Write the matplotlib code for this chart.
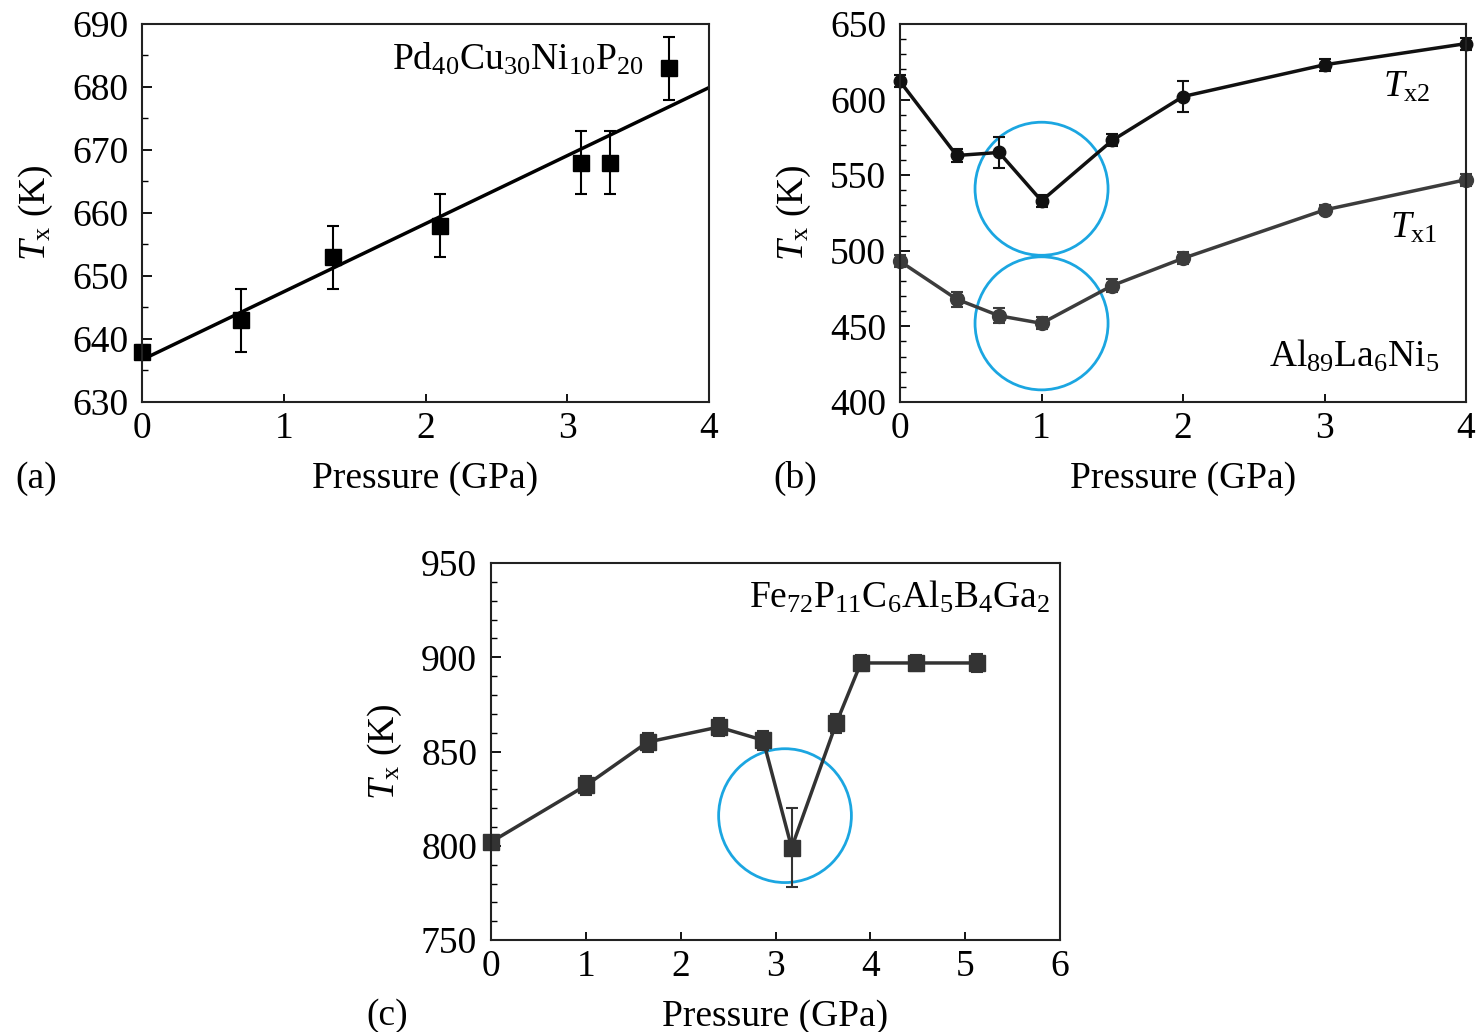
import numpy as np
import matplotlib
matplotlib.use('Agg')
import matplotlib.pyplot as plt
from matplotlib.patches import Ellipse

plt.rcParams['font.family'] = ['Liberation Serif', 'DejaVu Serif']
plt.rcParams['mathtext.fontset'] = 'custom'
plt.rcParams['mathtext.rm'] = 'Liberation Serif'
plt.rcParams['mathtext.it'] = 'Liberation Serif:italic'
plt.rcParams['font.size'] = 27

# =============================================================================
# Data
# =============================================================================
# (a) Pd40Cu30Ni10P20
p_a = [0, 0.7, 1.35, 2.1, 3.1, 3.3, 3.72]
tx_a = [638, 643, 653, 658, 668, 668, 683]
err_a = [1, 5, 5, 5, 5, 5, 5]
fit_a = [636.7, 10.8]  # intercept, slope of the linear fit

# (b) Al89La6Ni5
p_b = [0, 0.4, 0.7, 1.0, 1.5, 2.0, 3.0, 4.0]
tx2_b = [612, 563, 565, 533, 573, 602, 623, 637]
err2_b = [4, 4, 10, 4, 4, 10, 4, 4]
tx1_b = [493, 468, 457, 452, 477, 495, 527, 547]
err1_b = [4, 5, 5, 4, 4, 4, 3, 4]

# (c) Fe72P11C6Al5B4Ga2
p_c = [0, 1.0, 1.65, 2.4, 2.87, 3.17, 3.64, 3.9, 4.48, 5.12]
tx_c = [802, 832, 855, 863, 856, 799, 865, 897, 897, 897]
err_c = [3, 5, 5, 5, 5, 21, 5, 4, 4, 5]

BLUE = '#1ba6e1'


def style_axes(ax, xlim, ylim, xticks, yticks, yminor):
    ax.set_xlim(*xlim)
    ax.set_ylim(*ylim)
    ax.set_xticks(xticks)
    ax.set_yticks(yticks)
    ax.set_yticks(yminor, minor=True)
    ax.tick_params(which='both', direction='in', top=False, right=False)
    ax.tick_params(axis='y', which='major', length=7, width=1.3, pad=10)
    ax.tick_params(axis='y', which='minor', length=4, width=1.0)
    ax.tick_params(axis='x', which='major', length=6, width=1.3, pad=7)
    for s in ax.spines.values():
        s.set_linewidth(1.5)
        s.set_color('#222222')
    ax.set_xlabel('Pressure (GPa)', labelpad=11)
    ax.set_ylabel(r'$T_\mathrm{x}$ (K)', labelpad=12)


fig = plt.figure(figsize=(14.83, 10.32), dpi=100)
ax_a = fig.add_axes([0.0958, 0.6105, 0.3823, 0.3663])
ax_b = fig.add_axes([0.6069, 0.6105, 0.3817, 0.3663])
ax_c = fig.add_axes([0.3311, 0.0891, 0.3837, 0.3653])

# =============================================================================
# (a)
# =============================================================================
xs = np.array([0, 4])
ax_a.plot(xs, fit_a[0] + fit_a[1] * xs, color='black', lw=2.5)
ax_a.errorbar(p_a, tx_a, yerr=err_a, fmt='s', color='black', ms=11,
              capsize=4, elinewidth=1.5, capthick=1.5, clip_on=False)
style_axes(ax_a, (0, 4), (630, 690), range(0, 5), range(630, 691, 10),
           range(630, 691, 5))
ax_a.text(0.884, 0.878, r'Pd$_{40}$Cu$_{30}$Ni$_{10}$P$_{20}$',
          transform=ax_a.transAxes, ha='right', va='baseline')

# =============================================================================
# (b)
# =============================================================================
ax_b.errorbar(p_b, tx2_b, yerr=err2_b, fmt='-o', color='#111111', ms=9,
              lw=2.5, capsize=4, elinewidth=1.5, capthick=1.5, clip_on=False)
ax_b.errorbar(p_b, tx1_b, yerr=err1_b, fmt='-o', color='#3c3c3c', ms=10,
              lw=2.5, capsize=4, elinewidth=1.5, capthick=1.5, clip_on=False)
ax_b.add_patch(Ellipse((1.0, 541), 0.94, 88, fill=False, ec=BLUE, lw=2))
ax_b.add_patch(Ellipse((1.0, 452), 0.94, 88, fill=False, ec=BLUE, lw=2))
style_axes(ax_b, (0, 4), (400, 650), range(0, 5), range(400, 651, 50),
           range(400, 651, 10))
ax_b.text(0.853, 0.807, r'$T_\mathrm{x2}$', transform=ax_b.transAxes,
          ha='left', va='baseline')
ax_b.text(0.866, 0.434, r'$T_\mathrm{x1}$', transform=ax_b.transAxes,
          ha='left', va='baseline')
ax_b.text(0.954, 0.093, r'Al$_{89}$La$_6$Ni$_5$', transform=ax_b.transAxes,
          ha='right', va='baseline')

# =============================================================================
# (c)
# =============================================================================
ax_c.errorbar(p_c, tx_c, yerr=err_c, fmt='-s', color='#333333', ms=11,
              lw=2.5, capsize=4, elinewidth=1.5, capthick=1.5, clip_on=False)
ax_c.add_patch(Ellipse((3.1, 816), 1.40, 71, fill=False, ec=BLUE, lw=2))
style_axes(ax_c, (0, 6), (750, 950), range(0, 7), range(750, 951, 50),
           range(750, 951, 10))
ax_c.text(0.982, 0.883, r'Fe$_{72}$P$_{11}$C$_6$Al$_5$B$_4$Ga$_2$',
          transform=ax_c.transAxes, ha='right', va='baseline')

# Panel letters
fig.text(15 / 1483, 1 - 488 / 1032, '(a)', va='baseline')
fig.text(773 / 1483, 1 - 488 / 1032, '(b)', va='baseline')
fig.text(366 / 1483, 1 - 1025 / 1032, '(c)', va='baseline')

fig.savefig('out.png', dpi=100)
